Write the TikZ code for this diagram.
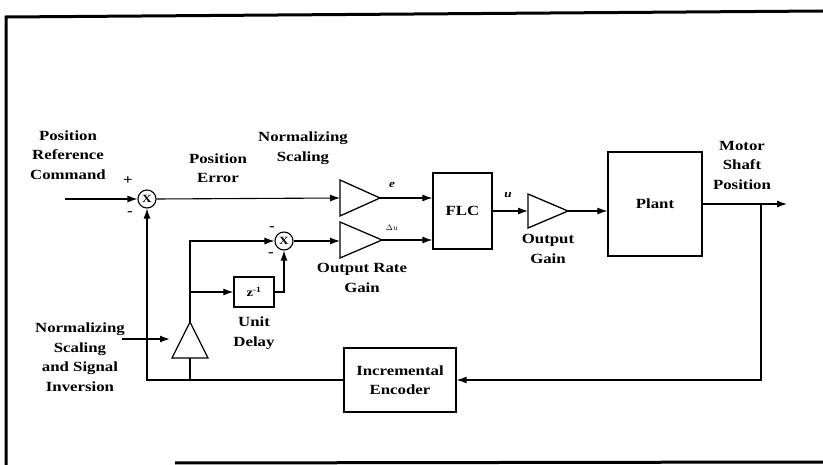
\documentclass[tikz,border=0pt]{standalone}
\usepackage{fontspec}
\setmainfont{Liberation Serif}[FakeStretch=1.2]
\usetikzlibrary{arrows.meta}
\begin{document}
\begin{tikzpicture}[x=1pt,y=-1pt,line width=1.1pt,
  lbl/.style={font=\bfseries\fontsize{14}{19.5}\selectfont,align=center,inner sep=0pt},
  blk/.style={draw,line width=1.3pt,inner sep=0pt},
  sumc/.style={draw,circle,minimum size=18pt,inner sep=0pt,font=\bfseries\fontsize{11}{11}\selectfont},
  arr/.style={-{Latex[length=10pt,width=7pt]}},
  frm/.style={line width=3pt}]
\useasboundingbox (0,0) rectangle (823,465);
% frame
\draw[frm] (6,465) -- (6,17) -- (823,11);
\draw[frm] (175,463) -- (823,462);
% blocks
\node[sumc] (s1) at (147,199) {X};
\node[sumc] (s2) at (284,241) {X};
\node[blk,minimum width=59pt,minimum height=76pt,lbl] (flc) at (462.5,211) {FLC};
\node[blk,minimum width=94pt,minimum height=104pt,lbl] (plant) at (655,204) {Plant};
\node[blk,minimum width=40pt,minimum height=30pt,font=\bfseries\fontsize{12}{12}\selectfont] (zd) at (254,292) {z\textsuperscript{-1}};
\node[blk,minimum width=112pt,minimum height=64pt,lbl] (enc) at (400,380) {Incremental\\Encoder};
% gains
\draw[blk] (340,180) -- (380,198) -- (340,216) -- cycle;
\coordinate (g1in) at (340,198); \coordinate (g1out) at (380,198);
\draw[blk] (340,222) -- (382,240) -- (340,258) -- cycle;
\coordinate (g2in) at (340,241); \coordinate (g2out) at (382,240);
\draw[blk] (528,194) -- (568,211) -- (528,228) -- cycle;
\coordinate (g3in) at (528,211); \coordinate (g3out) at (568,211);
\draw[blk] (190,322) -- (208,358) -- (172,358) -- cycle;
\coordinate (g4top) at (190,322); \coordinate (g4base) at (190,358);
\coordinate (g4in) at (170,339); \coordinate (nin) at (122,339);
% connectors
\coordinate (ref) at (65,199);
\draw[arr] (ref) -- (s1.west);
\draw[arr] (s1.east) -- (g1in);
\draw[arr] (g1out) -- (g1out -| flc.west);
\draw[arr] (s2.east) -- (g2in);
\draw[arr] (g2out) -- (g2out -| flc.west);
\draw[arr] (flc.east) -- (g3in);
\draw[arr] (g3out) -- (g3out -| plant.west);
\coordinate (out) at (787,204);
\coordinate (fb1) at (761,204);
\draw[arr] (plant.east) -- (out);
\draw[arr] (fb1) |- (enc.east);
\draw[arr] (enc.west) -| (s1.south);
\draw (g4base) -- (g4base |- enc.west);
\coordinate (br1) at (190,241);
\coordinate (br2) at (190,292);
\draw[arr] (g4top) -- (br1) -- (s2.west);
\draw[arr] (br2) -- (zd.west);
\draw[arr] (zd.east) -| (s2.south);
\draw[arr,line width=1.5pt] (nin) -- (g4in);
% labels
\node[lbl] (l1) at (68,155) {Position\\Reference\\Command};
\node[lbl] (lp) at (128,181) {+};
\node[lbl] (lm) at (130,214) {-};
\node[lbl] (lm2) at (272,229) {-};
\node[lbl] (lm3) at (271,255) {-};
\node[lbl] (l2) at (218,168) {Position\\Error};
\node[lbl] (l3) at (303,148) {Normalizing\\Scaling};
\node[lbl,font=\bfseries\itshape\fontsize{11}{11}\selectfont] (le) at (392,185) {e};
\node[lbl,font=\fontsize{8}{8}\selectfont] (ldu) at (392,228) {$\Delta u$};
\node[lbl,font=\bfseries\itshape\fontsize{11}{11}\selectfont] (lu) at (508,195) {u};
\node[lbl] (l4) at (362,278) {Output Rate\\Gain};
\node[lbl] (l5) at (254,333) {Unit\\Delay};
\node[lbl] (l6) at (548,249) {Output\\Gain};
\node[lbl] (l7) at (742,165) {Motor\\Shaft\\Position};
\node[lbl] (l8) at (80,357) {Normalizing\\Scaling\\and Signal\\Inversion};
\end{tikzpicture}
\end{document}
